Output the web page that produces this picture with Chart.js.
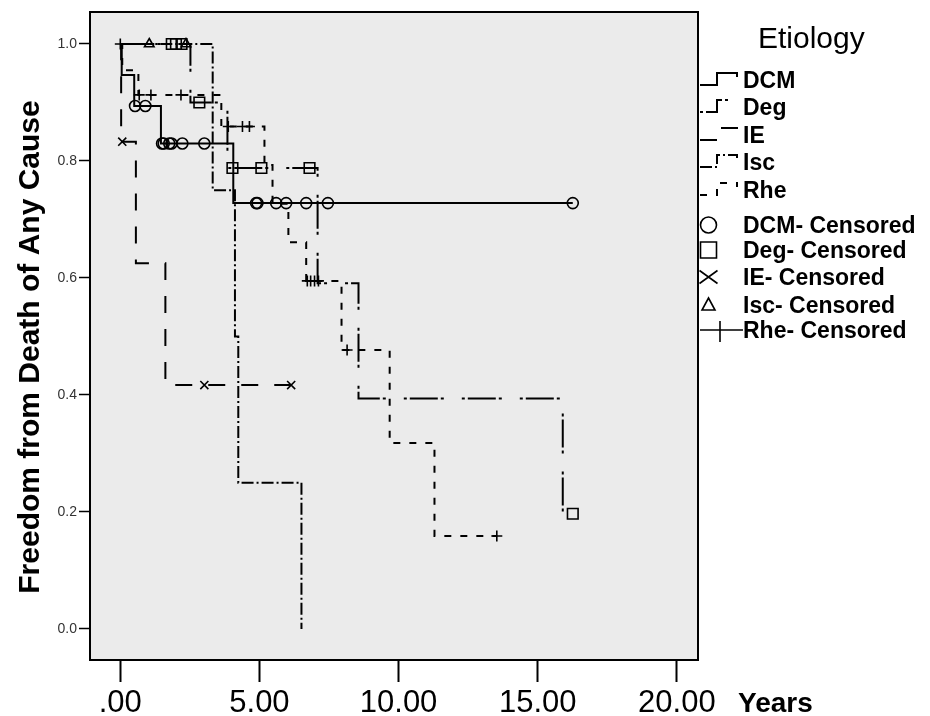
<!DOCTYPE html>
<html><head><meta charset="utf-8">
<script src="https://cdn.jsdelivr.net/npm/chart.js@4.4.1/dist/chart.umd.min.js"></script>
<style>html,body{margin:0;padding:0;background:#fff;}canvas{display:block;}</style>
</head><body>
<canvas id="c" width="930" height="716"></canvas>
<script>
// ---------- data ----------
const groups = ['DCM', 'Deg', 'IE', 'Isc', 'Rhe'];
const censoredLabels = ['DCM- Censored', 'Deg- Censored', 'IE- Censored', 'Isc- Censored', 'Rhe- Censored'];
const xTickValues = [0, 5, 10, 15, 20];
const xTickLabels = ['.00', '5.00', '10.00', '15.00', '20.00'];
const yTickValues = [0, 0.2, 0.4, 0.6, 0.8, 1.0];
const yTickLabels = ['0.0', '0.2', '0.4', '0.6', '0.8', '1.0'];

// step curves (time in years, survival)
const dcmTimes = [0, 0.05, 0.50, 1.46, 4.06, 16.26];
const dcmSurv  = [1.0, 0.947, 0.894, 0.830, 0.728, 0.728];
const degTimes = [0, 2.52, 3.85, 7.09, 8.56, 15.90, 16.26];
const degSurv  = [1.0, 0.900, 0.788, 0.591, 0.394, 0.197, 0.197];
const ieTimes  = [0, 0.03, 0.56, 1.62, 6.14];
const ieSurv   = [1.0, 0.833, 0.625, 0.417, 0.417];
const iscTimes = [0, 3.32, 4.12, 4.24, 6.51];
const iscSurv  = [1.0, 0.75, 0.50, 0.25, 0.0];
const rheTimes = [0, 0.07, 0.65, 3.63, 5.18, 5.47, 6.04, 6.68, 7.95, 9.68, 11.29, 13.53];
const rheSurv  = [1.0, 0.955, 0.913, 0.859, 0.793, 0.727, 0.661, 0.595, 0.477, 0.318, 0.159, 0.159];

// censored observations
const dcmCensT = [0.53, 0.90, 1.50, 1.56, 1.76, 1.84, 2.23, 3.02, 4.88, 4.93, 5.60, 5.96, 6.68, 7.46, 16.26];
const dcmCensS = [0.894, 0.894, 0.830, 0.830, 0.830, 0.830, 0.830, 0.830, 0.728, 0.728, 0.728, 0.728, 0.728, 0.728, 0.728];
const degCensT = [1.85, 2.00, 2.20, 2.84, 4.03, 5.07, 6.80, 16.26];
const degCensS = [1.0, 1.0, 1.0, 0.900, 0.788, 0.788, 0.788, 0.197];
const ieCensT  = [0.07, 3.02, 6.14];
const ieCensS  = [0.833, 0.417, 0.417];
const iscCensT = [1.04, 2.36];
const iscCensS = [1.0, 1.0];
const rheCensT = [0.0, 0.68, 1.10, 2.18, 3.88, 4.39, 4.64, 6.72, 6.84, 6.98, 7.12, 8.15, 13.53];
const rheCensS = [1.0, 0.913, 0.913, 0.913, 0.859, 0.859, 0.859, 0.595, 0.595, 0.595, 0.595, 0.477, 0.159];

// ---------- styles ----------
const FONT = '"Liberation Sans", Arial, Helvetica, sans-serif';
const dashes = { DCM: [], Deg: [3, 3, 28, 3, 3, 18], IE: [17, 16], Isc: [12, 3, 2, 3], Rhe: [7, 9] };
const markers = {
  DCM: { style: 'circle', r: 5.5 },
  Deg: { style: 'rect', r: 7.5 },
  IE:  { style: 'crossRot', r: 5.7 },
  Isc: { style: 'triangle', r: 5.5 },
  Rhe: { style: 'cross', r: 5.5 }
};

const pts = (t, s) => t.map((v, i) => ({ x: v, y: s[i] }));
const curves = {
  DCM: pts(dcmTimes, dcmSurv), Deg: pts(degTimes, degSurv), IE: pts(ieTimes, ieSurv),
  Isc: pts(iscTimes, iscSurv), Rhe: pts(rheTimes, rheSurv)
};
const censored = {
  DCM: pts(dcmCensT, dcmCensS), Deg: pts(degCensT, degCensS), IE: pts(ieCensT, ieCensS),
  Isc: pts(iscCensT, iscCensS), Rhe: pts(rheCensT, rheCensS)
};

const datasets = [];
groups.forEach(g => {
  datasets.push({
    type: 'scatter', label: g + '- Censored', data: censored[g], showLine: false,
    pointStyle: markers[g].style, pointRadius: markers[g].r, pointBorderWidth: 1.6,
    pointBorderColor: '#000', pointBackgroundColor: 'rgba(0,0,0,0)'
  });
});
groups.forEach(g => {
  datasets.push({
    type: 'line', label: g, data: curves[g], stepped: true, fill: false,
    borderColor: '#000', borderWidth: 2, borderDash: dashes[g], pointRadius: 0, tension: 0
  });
});

// ---------- decorations plugin ----------
const decor = {
  id: 'decor',
  beforeDraw(chart) {
    const { ctx, chartArea: a } = chart;
    ctx.save();
    ctx.fillStyle = '#ebebeb';
    ctx.fillRect(a.left, a.top, a.right - a.left, a.bottom - a.top);
    ctx.restore();
  },
  afterDraw(chart) {
    const { ctx, chartArea: a } = chart;
    ctx.save();
    // frame
    ctx.strokeStyle = '#000'; ctx.lineWidth = 2; ctx.setLineDash([]);
    ctx.strokeRect(a.left, a.top, a.right - a.left, a.bottom - a.top);

    // y title
    ctx.fillStyle = '#000';
    ctx.save();
    ctx.translate(31, (a.top + a.bottom) / 2 + 11);
    ctx.rotate(-Math.PI / 2);
    ctx.font = 'bold 30px ' + FONT;
    ctx.textAlign = 'center'; ctx.textBaseline = 'middle';
    ctx.fillText('Freedom from Death of Any Cause', 0, 0);
    ctx.restore();

    // x title
    ctx.font = 'bold 28px ' + FONT;
    ctx.textAlign = 'left'; ctx.textBaseline = 'alphabetic';
    ctx.fillText('Years', 738, 712);

    // legend
    const lx = a.right + 2;
    ctx.font = '30px ' + FONT;
    ctx.fillText('Etiology', 758, 48);
    const lineBase = [88, 115, 143, 170, 198];
    groups.forEach((g, i) => {
      const b = lineBase[i];
      ctx.beginPath();
      ctx.setLineDash(dashes[g]);
      ctx.lineWidth = 2;
      ctx.moveTo(lx, b - 3); ctx.lineTo(lx + 17, b - 3); ctx.lineTo(lx + 17, b - 15);
      ctx.lineTo(lx + 37, b - 15); ctx.lineTo(lx + 37, b - 11);
      ctx.stroke();
      ctx.setLineDash([]);
      ctx.font = 'bold 23px ' + FONT;
      ctx.fillText(g, 743, b);
    });
    const censBase = [233, 258, 285, 313, 338];
    ctx.lineWidth = 1.6; ctx.setLineDash([]);
    groups.forEach((g, i) => {
      const b = censBase[i];
      const cy = b - 8, cx = 708.5;
      ctx.beginPath();
      if (g === 'DCM') { ctx.arc(cx, cy, 8, 0, Math.PI * 2); }
      else if (g === 'Deg') { ctx.rect(cx - 8, cy - 8, 16, 16); }
      else if (g === 'IE') { ctx.moveTo(cx - 9, cy - 6.5); ctx.lineTo(cx + 9, cy + 6.5); ctx.moveTo(cx - 9, cy + 6.5); ctx.lineTo(cx + 9, cy - 6.5); }
      else if (g === 'Isc') { ctx.moveTo(cx, cy - 7); ctx.lineTo(cx + 6.5, cy + 5); ctx.lineTo(cx - 6.5, cy + 5); ctx.closePath(); }
      else { ctx.moveTo(lx, cy); ctx.lineTo(743, cy); ctx.moveTo(720, cy - 9); ctx.lineTo(720, cy + 12); }
      ctx.stroke();
      ctx.font = 'bold 23px ' + FONT;
      ctx.fillText(censoredLabels[i], 743, b);
    });
    ctx.restore();
  }
};

new Chart(document.getElementById('c'), {
  data: { datasets },
  options: {
    responsive: false, animation: false, devicePixelRatio: 1, events: [],
    layout: { padding: { top: 12, right: 232, left: 0, bottom: 0 } },
    plugins: { legend: { display: false }, tooltip: { enabled: false }, title: { display: false } },
    scales: {
      x: {
        type: 'linear', min: -1.089, max: 20.76,
        afterBuildTicks: s => { s.ticks = xTickValues.map(v => ({ value: v })); },
        afterFit: s => { s.height = 56; },
        ticks: {
          autoSkip: false, maxRotation: 0, padding: 3, color: '#000',
          font: { family: FONT, size: 31 },
          callback: v => xTickLabels[xTickValues.indexOf(v)]
        },
        grid: { drawOnChartArea: false, drawTicks: true, tickLength: 22, tickColor: '#000', tickWidth: 2 },
        border: { display: false }
      },
      y: {
        type: 'linear', min: -0.053, max: 1.0547,
        afterBuildTicks: s => { s.ticks = yTickValues.map(v => ({ value: v })); },
        afterFit: s => { s.width = 90; },
        ticks: {
          autoSkip: false, padding: 2, color: '#333',
          font: { family: FONT, size: 14 },
          callback: v => yTickLabels[yTickValues.findIndex(t => Math.abs(t - v) < 1e-6)]
        },
        grid: { drawOnChartArea: false, drawTicks: true, tickLength: 11, tickColor: '#000', tickWidth: 1.5 },
        border: { display: false }
      }
    }
  },
  plugins: [decor]
});
</script>
</body></html>
